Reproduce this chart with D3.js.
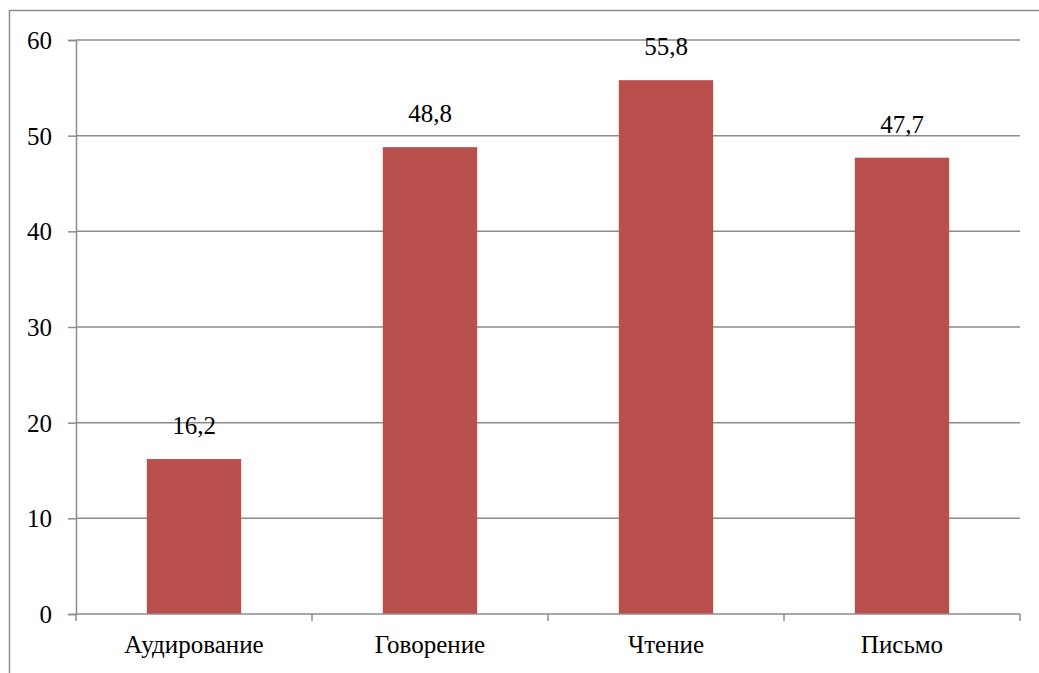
<!DOCTYPE html>
<html>
<head>
<meta charset="utf-8">
<script src="https://cdn.jsdelivr.net/npm/d3@7"></script>
<style>
  html, body { margin: 0; padding: 0; background: #fff; }
  svg { display: block; }
  svg text { font-family: "Liberation Serif" !important; }
</style>
</head>
<body>
<div id="skills"></div>
<script>
// Skill areas and their scores
const categories = ["Аудирование", "Говорение", "Чтение", "Письмо"];
const values = [16.2, 48.8, 55.8, 47.7];
const yTicks = [0, 10, 20, 30, 40, 50, 60];

const W = 1039, H = 673;
const margin = { left: 76, right: 19, top: 40, bottom: 59 };
const FONT = "Liberation Serif";
const FS = 25;
const svg = d3.select("#skills").append("svg").attr("width", W).attr("height", H);

// outer frame (runs off the right and bottom edges)
svg.append("rect")
  .attr("x", 9.5).attr("y", 10.5)
  .attr("width", W + 10).attr("height", H + 10)
  .attr("fill", "none").attr("stroke", "#8c8c8c").attr("stroke-width", 1.5);

const x = d3.scaleBand()
  .domain(categories)
  .range([margin.left, W - margin.right])
  .padding(0);

const y = d3.scaleLinear()
  .domain([0, 60])
  .range([H - margin.bottom, margin.top]);

const fmt = v => String(v).replace(".", ",");

// horizontal gridlines
svg.append("g")
  .selectAll("line")
  .data(yTicks.filter(t => t > 0))
  .join("line")
  .attr("x1", margin.left).attr("x2", W - margin.right)
  .attr("y1", d => y(d)).attr("y2", d => y(d))
  .attr("stroke", "#8c8c8c").attr("stroke-width", 1.5);

// y axis
const yAxis = d3.axisLeft(y).tickValues(yTicks).tickSize(8).tickPadding(16).tickFormat(d3.format("d"));
const gy = svg.append("g").attr("transform", `translate(${margin.left},0)`).call(yAxis);
gy.attr("font-family", FONT).attr("font-size", FS);
gy.select(".domain").attr("stroke", "#8c8c8c").attr("stroke-width", 1.5);
gy.selectAll(".tick line").attr("stroke", "#8c8c8c").attr("stroke-width", 1.5);
gy.selectAll(".tick text")
  .attr("font-family", FONT).attr("font-size", FS)
  .attr("fill", "#000").attr("dy", "0.34em");

// bars
const barW = x.bandwidth() * 0.4;
svg.append("g")
  .selectAll("rect")
  .data(values)
  .join("rect")
  .attr("x", (d, i) => x(categories[i]) + (x.bandwidth() - barW) / 2)
  .attr("y", d => y(d))
  .attr("width", barW)
  .attr("height", d => y(0) - y(d))
  .attr("fill", "#b9504e");

// value labels
svg.selectAll("text.val")
  .data(values)
  .join("text")
  .attr("class", "val")
  .attr("x", (d, i) => x(categories[i]) + x.bandwidth() / 2)
  .attr("y", d => y(d) - 25)
  .attr("text-anchor", "middle")
  .attr("font-family", FONT).attr("font-size", FS)
  .attr("fill", "#000")
  .text(d => fmt(d));

// x axis baseline and category boundary ticks
const gx = svg.append("g").attr("transform", `translate(0,${y(0)})`);
gx.append("line")
  .attr("x1", margin.left).attr("x2", W - margin.right)
  .attr("stroke", "#8c8c8c").attr("stroke-width", 1.5);
const bounds = categories.map(c => x(c)).concat([W - margin.right]);
gx.selectAll("line.bound")
  .data(bounds)
  .join("line")
  .attr("class", "bound")
  .attr("x1", d => d).attr("x2", d => d)
  .attr("y1", 0).attr("y2", 7)
  .attr("stroke", "#8c8c8c").attr("stroke-width", 1.5);

// category labels
svg.selectAll("text.cat")
  .data(categories)
  .join("text")
  .attr("class", "cat")
  .attr("x", d => x(d) + x.bandwidth() / 2)
  .attr("y", y(0) + 39)
  .attr("text-anchor", "middle")
  .attr("font-family", FONT).attr("font-size", FS)
  .attr("fill", "#000")
  .text(d => d);
</script>
</body>
</html>
